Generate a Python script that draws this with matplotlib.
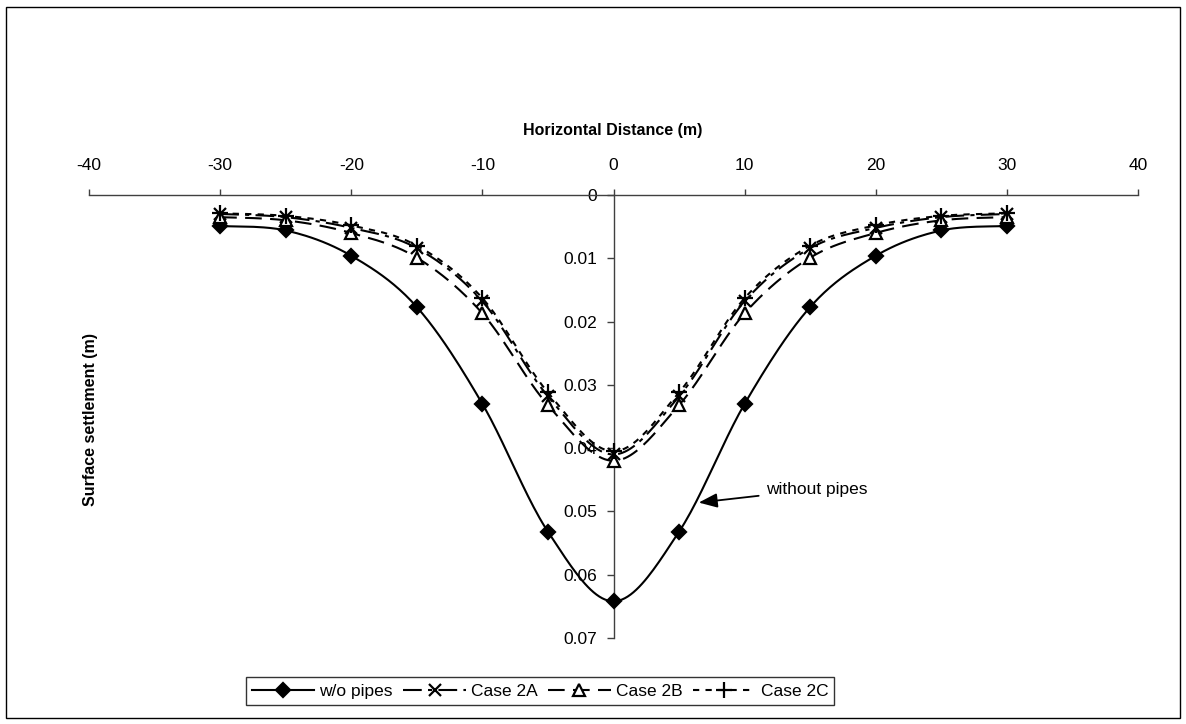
import numpy as np
import matplotlib.pyplot as plt
from matplotlib.lines import Line2D
from matplotlib.patches import Rectangle

plt.rcParams['font.family'] = ['Liberation Sans', 'DejaVu Sans']
plt.rcParams['axes.unicode_minus'] = False

# Data
dist = [-30, -25, -20, -15, -10, -5, 0, 5, 10, 15, 20, 25, 30]
wo_pipes = [0.0049, 0.0056, 0.0096, 0.0177, 0.0330, 0.0532, 0.0642,
            0.0532, 0.0330, 0.0177, 0.0096, 0.0056, 0.0049]
case_2a = [0.0030, 0.0035, 0.0052, 0.0084, 0.0168, 0.0318, 0.0410,
           0.0318, 0.0168, 0.0084, 0.0052, 0.0035, 0.0030]
case_2b = [0.0035, 0.0040, 0.0060, 0.0099, 0.0187, 0.0332, 0.0420,
           0.0332, 0.0187, 0.0099, 0.0060, 0.0040, 0.0035]
case_2c = [0.0029, 0.0033, 0.0048, 0.0080, 0.0163, 0.0312, 0.0405,
           0.0312, 0.0163, 0.0080, 0.0048, 0.0033, 0.0029]

xticks = [-40, -30, -20, -10, 0, 10, 20, 30, 40]
yticks = [0, 0.01, 0.02, 0.03, 0.04, 0.05, 0.06, 0.07]


def smooth(x, y, n=24):
    # Excel-like smoothed line: cubic Bezier through the points
    x = np.asarray(x, float)
    y = np.asarray(y, float)
    px = np.concatenate([[x[0]], x, [x[-1]]])
    py = np.concatenate([[y[0]], y, [y[-1]]])
    t = np.linspace(0, 1, n)[:, None]
    xs, ys = [], []
    for i in range(1, len(px) - 2):
        p0 = np.array([px[i], py[i]])
        p3 = np.array([px[i + 1], py[i + 1]])
        c1 = p0 + (np.array([px[i + 1], py[i + 1]]) - np.array([px[i - 1], py[i - 1]])) / 6
        c2 = p3 - (np.array([px[i + 2], py[i + 2]]) - np.array([px[i], py[i]])) / 6
        b = ((1 - t) ** 3) * p0 + 3 * ((1 - t) ** 2) * t * c1 + 3 * (1 - t) * t ** 2 * c2 + t ** 3 * p3
        xs.append(b[:, 0])
        ys.append(b[:, 1])
    return np.concatenate(xs), np.concatenate(ys)


fig = plt.figure(figsize=(11.86, 7.24), dpi=100)
ax = fig.add_axes([89/1186, 1 - 638/724, (1138 - 89)/1186, (638 - 195)/724])

series = [
    ("w/o pipes", wo_pipes, dict(ls='-', marker='D', ms=7.5, mfc='black', dashes=None)),
    ("Case 2A", case_2a, dict(ls='--', marker='x', ms=9, mfc='black', dashes=(9, 3, 2, 3))),
    ("Case 2B", case_2b, dict(ls='--', marker='^', ms=8.5, mfc='white', dashes=(8, 4))),
    ("Case 2C", case_2c, dict(ls='--', marker='+', ms=11, mfc='black', dashes=(3, 3))),
]

handles = []
for name, vals, st in series:
    sx, sy = smooth(dist, vals)
    kw = dict(color='black', lw=1.5)
    if st['dashes'] is not None:
        kw['dashes'] = st['dashes']
    ax.plot(sx, sy, ls=st['ls'], **kw, zorder=3)
    ax.plot(dist, vals, ls='none', marker=st['marker'], ms=st['ms'],
            mfc=st['mfc'], mec='black', mew=1.6, zorder=4)
    h = Line2D([], [], color='black', lw=1.5, ls=st['ls'], marker=st['marker'],
               ms=st['ms'], mfc=st['mfc'], mec='black', mew=1.6)
    if st['dashes'] is not None:
        h.set_dashes(st['dashes'])
    handles.append(h)

ax.set_xlim(-40, 40)
ax.set_ylim(0.07, 0)
ax.set_xticks(xticks)
ax.set_yticks(yticks)
ax.set_yticklabels([f"{v:g}" for v in yticks])

ax.xaxis.tick_top()
ax.spines['bottom'].set_visible(False)
ax.spines['right'].set_visible(False)
ax.spines['left'].set_position(('data', 0))
for s in ('top', 'left'):
    ax.spines[s].set_color('#404040')
    ax.spines[s].set_linewidth(1.0)
ax.tick_params(axis='x', direction='out', length=4, width=1, color='#404040',
               labelsize=12.5, pad=12)
ax.tick_params(axis='y', direction='out', length=5, width=1, color='#404040',
               labelsize=12.5, pad=7)
ax.patch.set_visible(False)

fig.text(613/1186, 1 - 130/724, "Horizontal Distance (m)", ha='center', va='center',
         fontsize=11.5, fontweight='bold')
fig.text(90/1186, 1 - 420/724, "Surface settlement (m)", ha='center', va='center',
         rotation=90, fontsize=11.5, fontweight='bold')

ax.annotate("without pipes", xy=(6.5, 0.0486), xytext=(11.6, 0.0465),
            fontsize=12.5, va='center', ha='left',
            arrowprops=dict(arrowstyle='-|>,head_length=0.9,head_width=0.35',
                            color='black', lw=1.3, shrinkA=3, shrinkB=0))

leg = fig.legend(handles, [s[0] for s in series], loc='center',
                 bbox_to_anchor=(540/1186, 1 - 691/724), ncol=4, fontsize=12.5,
                 frameon=True, fancybox=False, edgecolor='black', handlelength=3.6,
                 numpoints=1, borderpad=0.35, columnspacing=0.6, handletextpad=0.3,
                 borderaxespad=0)
leg.get_frame().set_linewidth(1.0)

fig.patches.append(Rectangle((6/1186, 1 - 718/724), (1180 - 6)/1186, (718 - 7)/724,
                             transform=fig.transFigure, fill=False, ec='black', lw=1.0))

fig.savefig("out.png", dpi=100)
